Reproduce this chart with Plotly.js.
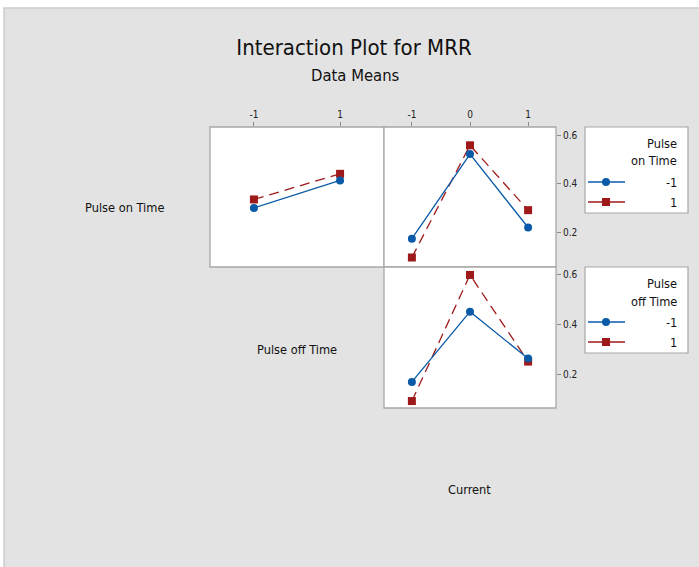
<!DOCTYPE html>
<html>
<head>
<meta charset="utf-8">
<script src="https://cdn.plot.ly/plotly-3.0.1.min.js"></script>
<style>html,body{margin:0;padding:0;background:#fff;}#chart{width:699px;height:567px;}</style>
</head>
<body>
<div id="chart"></div>
<script>
// ---- data ----
const offTimeLevels = [-1, 1];
const currentLevels = [-1, 0, 1];
const legendLevels = ["-1", "1"];
// Row 1: lines = Pulse on Time
const onTimeByOffTime_m1 = [0.301, 0.414];
const onTimeByOffTime_p1 = [0.336, 0.441];
const onTimeByCurrent_m1 = [0.175, 0.522, 0.221];
const onTimeByCurrent_p1 = [0.098, 0.558, 0.292];
// Row 2: lines = Pulse off Time
const offTimeByCurrent_m1 = [0.169, 0.452, 0.263];
const offTimeByCurrent_p1 = [0.092, 0.600, 0.251];
const yTicks = [0.2, 0.4, 0.6];

// ---- styling ----
const W = 699, H = 567;
const FONT = '"DejaVu Sans Condensed", "Liberation Sans Narrow", "Open Sans", sans-serif';
const BLUE = '#0a5aa8', RED = '#9e1a1a';
const px = x => x / W;
const py = y => 1 - y / H;

function blueTrace(x, y, xa, ya) {
  return {x: x, y: y, xaxis: xa, yaxis: ya, type: 'scatter', mode: 'lines+markers',
    line: {color: BLUE, width: 1.3}, marker: {color: BLUE, size: 8, symbol: 'circle'},
    showlegend: false, hoverinfo: 'x+y'};
}
function redTrace(x, y, xa, ya) {
  return {x: x, y: y, xaxis: xa, yaxis: ya, type: 'scatter', mode: 'lines+markers',
    line: {color: RED, width: 1.3, dash: '10px,6px'}, marker: {color: RED, size: 8, symbol: 'square'},
    showlegend: false, hoverinfo: 'x+y'};
}

const traces = [
  redTrace(offTimeLevels, onTimeByOffTime_p1, 'x', 'y'),
  blueTrace(offTimeLevels, onTimeByOffTime_m1, 'x', 'y'),
  redTrace(currentLevels, onTimeByCurrent_p1, 'x2', 'y'),
  blueTrace(currentLevels, onTimeByCurrent_m1, 'x2', 'y'),
  redTrace(currentLevels, offTimeByCurrent_p1, 'x3', 'y2'),
  blueTrace(currentLevels, offTimeByCurrent_m1, 'x3', 'y2')
];

const tickFont = {family: FONT, size: 10, color: '#222'};
const axBase = {showgrid: false, zeroline: false, showline: false, ticks: 'outside',
  ticklen: 4, tickwidth: 1, tickcolor: '#8a8a8a', tickfont: tickFont, fixedrange: true};

// panel rectangles (pixels)
const panels = [[210, 127, 384, 267], [384, 127, 556, 267], [384, 267, 556, 408]];
const shapes = [
  {type: 'rect', xref: 'paper', yref: 'paper', x0: px(4), x1: 1.01, y0: -0.01, y1: py(8),
   fillcolor: '#e3e3e3', line: {color: '#cdcdcd', width: 1.5}, layer: 'below'}
];
panels.forEach(p => shapes.push({type: 'rect', xref: 'paper', yref: 'paper',
  x0: px(p[0]), x1: px(p[2]), y0: py(p[3]), y1: py(p[1]),
  fillcolor: '#ffffff', line: {color: '#a8a8a8', width: 1.3}, layer: 'below'}));

function label(text, x, y, size, xanchor) {
  return {text: text, x: px(x), y: py(y), xref: 'paper', yref: 'paper', showarrow: false,
    xanchor: xanchor || 'center', yanchor: 'middle',
    font: {family: FONT, size: size, color: '#111'}};
}

const annotations = [
  label('Data Means', 355, 75, 16.5),
  label('Pulse on Time', 124, 207, 12.7),
  label('Pulse off Time', 297, 349, 12.7),
  label('Current', 469, 489, 12.7)
];

// legends drawn as boxes
const legends = [{top: 127, title: ['Pulse', 'on Time']}, {top: 267, title: ['Pulse', 'off Time']}];
legends.forEach(lg => {
  const t = lg.top;
  shapes.push({type: 'rect', xref: 'paper', yref: 'paper', x0: px(585), x1: px(688),
    y0: py(t + 86), y1: py(t), fillcolor: '#ffffff', line: {color: '#a8a8a8', width: 1.2}});
  annotations.push(label(lg.title[0], 679, t + 16, 12.7, 'right'));
  annotations.push(label(lg.title[1], 679, t + 34, 12.7, 'right'));
  const rows = [[t + 55, BLUE, 'circle'], [t + 75, RED, 'square']];
  rows.forEach((r, i) => {
    shapes.push({type: 'line', xref: 'paper', yref: 'paper', x0: px(588), x1: px(625),
      y0: py(r[0]), y1: py(r[0]), line: {color: r[1], width: 1.3}});
    shapes.push({type: r[2] === 'circle' ? 'circle' : 'rect', xref: 'paper', yref: 'paper',
      x0: px(602), x1: px(610), y0: py(r[0] + 4), y1: py(r[0] - 4),
      fillcolor: r[1], line: {color: r[1], width: 0}});
    annotations.push(label(legendLevels[i], 679, r[0], 12.7, 'right'));
  });
});

const layout = {
  width: W, height: H,
  margin: {l: 0, r: 0, t: 0, b: 0},
  paper_bgcolor: '#ffffff', plot_bgcolor: 'rgba(0,0,0,0)',
  showlegend: false,
  title: {text: 'Interaction Plot for MRR', x: px(354), xanchor: 'center', y: py(47), yanchor: 'middle',
    font: {family: FONT, size: 22, color: '#111'}},
  xaxis: Object.assign({}, axBase, {domain: [px(210), px(384)], range: [-2.02, 2.02], side: 'top',
    anchor: 'y', tickvals: offTimeLevels, ticktext: offTimeLevels.map(String)}),
  xaxis2: Object.assign({}, axBase, {domain: [px(384), px(556)], range: [-1.48, 1.48], side: 'top',
    anchor: 'y', tickvals: currentLevels, ticktext: currentLevels.map(String)}),
  xaxis3: Object.assign({}, axBase, {domain: [px(384), px(556)], range: [-1.48, 1.48],
    anchor: 'y2', showticklabels: false, ticks: ''}),
  yaxis: Object.assign({}, axBase, {domain: [py(267), py(127)], range: [0.059, 0.633], side: 'right',
    anchor: 'x2', tickvals: yTicks, ticktext: yTicks.map(v => v.toFixed(1))}),
  yaxis2: Object.assign({}, axBase, {domain: [py(408), py(267)], range: [0.064, 0.632], side: 'right',
    anchor: 'x3', tickvals: yTicks, ticktext: yTicks.map(v => v.toFixed(1))}),
  shapes: shapes,
  annotations: annotations
};

Plotly.newPlot('chart', traces, layout, {displayModeBar: false, staticPlot: true});
</script>
</body>
</html>
